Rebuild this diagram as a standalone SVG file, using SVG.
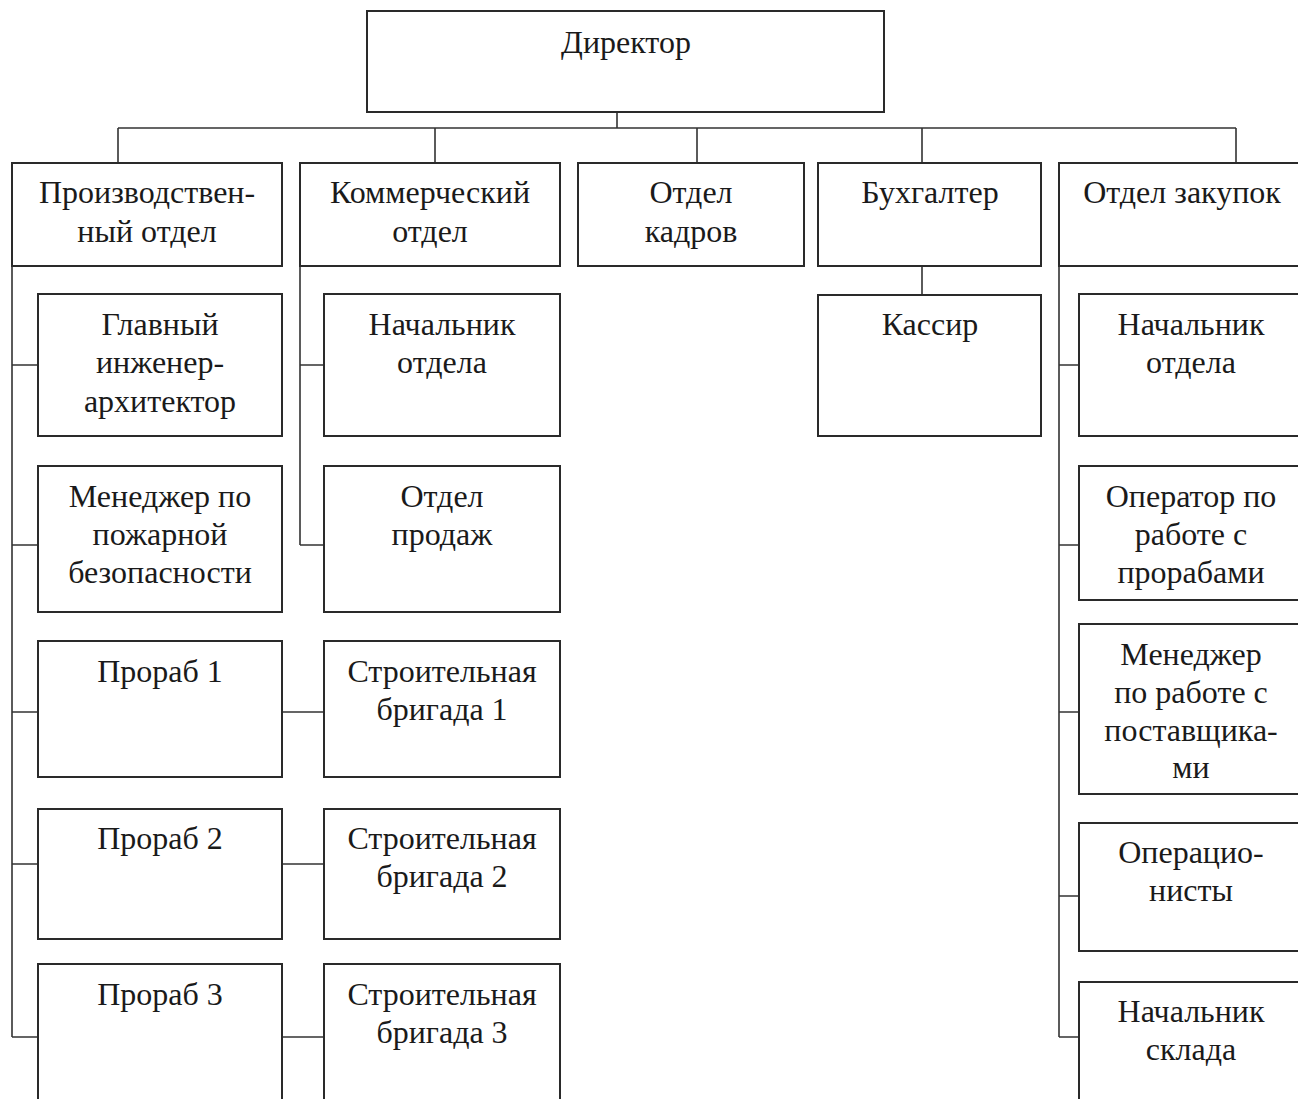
<svg xmlns="http://www.w3.org/2000/svg" width="1298" height="1099" viewBox="0 0 1298 1099">
<style>
.box{fill:#fff;stroke:#2a2a2a;stroke-width:2}
.con{fill:none;stroke:#333;stroke-width:1.6}
text{font-family:"Liberation Serif","Times New Roman",serif;font-size:32px;fill:#1a1a1a;text-anchor:middle}
</style>
<rect width="1298" height="1099" fill="#fff"/>
<g id="connectors">
<path class="con" d="M617,112V128M118,128H1236M118,128V163M435,128V163M697,128V163M922,128V163M1236,128V163"/>
<path class="con" d="M12,163V1037M12,365H38M12,545H38M12,712H38M12,864H38M12,1037H38"/>
<path class="con" d="M300,163V545M300,365H324M300,545H324"/>
<path class="con" d="M282,712H324M282,864H324M282,1037H324"/>
<path class="con" d="M922,266V295"/>
<path class="con" d="M1059,163V1037M1059,365H1079M1059,545H1079M1059,712H1079M1059,896H1079M1059,1037H1079"/>
</g>
<g id="director"><rect class="box" x="367" y="11" width="517" height="101"/><text x="626" y="53">Директор</text></g>
<g id="prod"><rect class="box" x="12" y="163" width="270" height="103"/><text x="147" y="203">Производствен-</text><text x="147" y="242">ный отдел</text></g>
<g id="comm"><rect class="box" x="300" y="163" width="260" height="103"/><text x="430" y="203">Коммерческий</text><text x="430" y="242">отдел</text></g>
<g id="hr"><rect class="box" x="578" y="163" width="226" height="103"/><text x="691" y="203">Отдел</text><text x="691" y="242">кадров</text></g>
<g id="acc"><rect class="box" x="818" y="163" width="223" height="103"/><text x="930" y="203">Бухгалтер</text></g>
<g id="purch"><rect class="box" x="1059" y="163" width="250" height="103"/><text x="1182" y="203">Отдел закупок</text></g>

<g id="chief-eng"><rect class="box" x="38" y="294" width="244" height="142"/><text x="160" y="335">Главный</text><text x="160" y="373">инженер-</text><text x="160" y="412">архитектор</text></g>
<g id="fire"><rect class="box" x="38" y="466" width="244" height="146"/><text x="160" y="507">Менеджер по</text><text x="160" y="545">пожарной</text><text x="160" y="583">безопасности</text></g>
<g id="foreman1"><rect class="box" x="38" y="641" width="244" height="136"/><text x="160" y="682">Прораб 1</text></g>
<g id="foreman2"><rect class="box" x="38" y="809" width="244" height="130"/><text x="160" y="849">Прораб 2</text></g>
<g id="foreman3"><rect class="box" x="38" y="964" width="244" height="150"/><text x="160" y="1005">Прораб 3</text></g>

<g id="comm-head"><rect class="box" x="324" y="294" width="236" height="142"/><text x="442" y="335">Начальник</text><text x="442" y="373">отдела</text></g>
<g id="sales"><rect class="box" x="324" y="466" width="236" height="146"/><text x="442" y="507">Отдел</text><text x="442" y="545">продаж</text></g>
<g id="brig1"><rect class="box" x="324" y="641" width="236" height="136"/><text x="442" y="682">Строительная</text><text x="442" y="720">бригада 1</text></g>
<g id="brig2"><rect class="box" x="324" y="809" width="236" height="130"/><text x="442" y="849">Строительная</text><text x="442" y="887">бригада 2</text></g>
<g id="brig3"><rect class="box" x="324" y="964" width="236" height="150"/><text x="442" y="1005">Строительная</text><text x="442" y="1043">бригада 3</text></g>

<g id="cashier"><rect class="box" x="818" y="295" width="223" height="141"/><text x="930" y="335">Кассир</text></g>

<g id="purch-head"><rect class="box" x="1079" y="294" width="224" height="142"/><text x="1191" y="335">Начальник</text><text x="1191" y="373">отдела</text></g>
<g id="operator"><rect class="box" x="1079" y="466" width="224" height="134"/><text x="1191" y="507">Оператор по</text><text x="1191" y="545">работе с</text><text x="1191" y="583">прорабами</text></g>
<g id="supplier-mgr"><rect class="box" x="1079" y="624" width="224" height="170"/><text x="1191" y="665">Менеджер</text><text x="1191" y="703">по работе с</text><text x="1191" y="741">поставщика-</text><text x="1191" y="778">ми</text></g>
<g id="operators"><rect class="box" x="1079" y="823" width="224" height="128"/><text x="1191" y="863">Операцио-</text><text x="1191" y="901">нисты</text></g>
<g id="warehouse"><rect class="box" x="1079" y="982" width="224" height="130"/><text x="1191" y="1022">Начальник</text><text x="1191" y="1060">склада</text></g>
</svg>
